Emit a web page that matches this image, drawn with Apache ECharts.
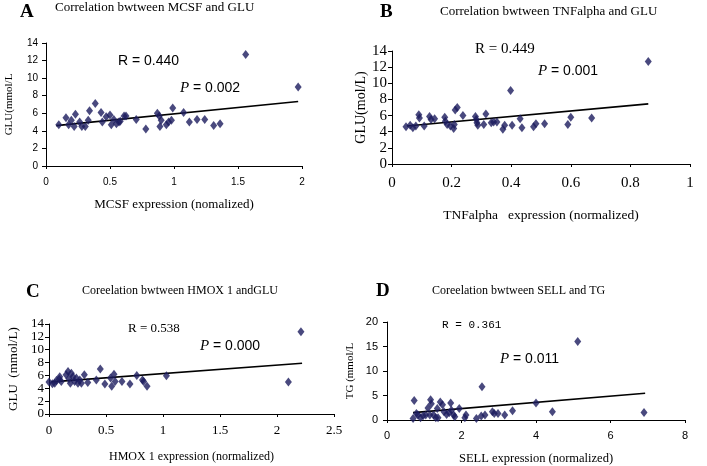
<!DOCTYPE html>
<html>
<head>
<meta charset="utf-8">
<script src="https://cdn.jsdelivr.net/npm/echarts@6/dist/echarts.min.js"></script>
<style>
html,body{margin:0;padding:0;background:#fff;}
#c{width:707px;height:466px;}
</style>
</head>
<body>
<div id="c"></div>
<script>
// ---- Data ----
const pointsA = [[0.10,4.7],[0.156,5.5],[0.177,4.7],[0.198,5.2],[0.22,4.5],[0.23,5.9],[0.263,5.0],[0.28,4.5],[0.307,4.5],[0.33,5.2],[0.34,6.3],[0.385,7.1],[0.43,6.1],[0.44,5.0],[0.47,5.6],[0.50,5.8],[0.51,4.7],[0.53,5.3],[0.55,4.8],[0.57,5.0],[0.58,5.1],[0.61,5.7],[0.625,5.7],[0.705,5.3],[0.78,4.2],[0.87,6.0],[0.885,5.7],[0.89,4.5],[0.90,5.2],[0.94,4.7],[0.958,5.0],[0.98,5.2],[0.99,6.6],[1.075,6.1],[1.12,5.0],[1.18,5.3],[1.24,5.3],[1.31,4.6],[1.36,4.8],[1.56,12.7],[1.97,9.0]];
const fitA = [[0.08,4.6],[1.97,7.35]];

const pointsB = [[0.047,4.6],[0.061,4.8],[0.07,4.5],[0.08,4.7],[0.09,6.1],[0.092,5.7],[0.108,4.7],[0.126,5.9],[0.131,5.5],[0.143,5.6],[0.177,5.8],[0.179,5.3],[0.185,4.9],[0.196,4.7],[0.207,4.4],[0.209,4.9],[0.212,6.7],[0.219,7.0],[0.238,6.0],[0.28,5.9],[0.283,5.5],[0.285,5.1],[0.288,4.8],[0.308,4.9],[0.315,6.2],[0.333,5.1],[0.341,5.2],[0.352,5.2],[0.372,4.3],[0.378,4.8],[0.403,4.8],[0.398,9.1],[0.43,5.6],[0.436,4.5],[0.475,4.6],[0.483,5.0],[0.512,5.0],[0.59,4.9],[0.60,5.8],[0.67,5.7],[0.86,12.7]];
const fitB = [[0.05,4.7],[0.86,7.45]];

const pointsC = [[0,4.96],[0.03,4.7],[0.05,4.8],[0.065,5.2],[0.09,5.4],[0.094,5.8],[0.108,5.06],[0.15,6.1],[0.167,6.6],[0.175,5.5],[0.187,4.8],[0.196,6.35],[0.21,5.8],[0.225,5.06],[0.24,5.6],[0.254,4.8],[0.27,5.3],[0.284,4.8],[0.31,6.1],[0.34,4.9],[0.415,5.3],[0.45,7.0],[0.49,4.65],[0.54,5.6],[0.55,4.3],[0.57,6.2],[0.58,5.06],[0.64,5.06],[0.71,4.65],[0.77,6.0],[0.82,5.3],[0.83,5.06],[0.86,4.3],[1.03,5.94],[2.1,4.96],[2.21,12.8]];
const fitC = [[0.02,5.0],[2.22,7.9]];

const pointsD = [[0.7,0.33],[0.73,4.0],[0.79,1.33],[0.83,1.0],[0.9,0.47],[0.97,0.87],[1.04,1.0],[1.1,2.47],[1.15,1.0],[1.17,4.13],[1.19,3.33],[1.25,1.0],[1.31,0.47],[1.35,2.33],[1.37,0.47],[1.43,3.67],[1.49,3.13],[1.53,1.67],[1.6,1.13],[1.67,1.47],[1.71,3.47],[1.73,2.0],[1.79,1.0],[1.82,0.67],[1.94,2.33],[2.09,0.47],[2.12,1.0],[2.4,0.33],[2.53,0.8],[2.55,6.8],[2.63,1.0],[2.83,1.67],[2.88,1.33],[2.98,1.33],[3.16,1.0],[3.37,1.87],[4.0,3.47],[4.44,1.67],[5.12,16.0],[6.9,1.53]];
const fitD = [[0.7,1.5],[6.93,5.47]];

const titles = ["Correlation bwtween MCSF and GLU","Correlation bwtween TNFalpha and GLU","Coreelation bwtween HMOX 1 andGLU","Coreelation bwtween SELL and TG"];
const letters = ["A","B","C","D"];
const xNames = ["MCSF expression (nomalized)","TNFalpha   expression (normalized)","HMOX 1 expression (normalized)","SELL expression (normalized)"];
const yNames = ["GLU(mmol/L","GLU(mol/L)","GLU  (mmol/L)","TG (mmol/L"];
const rTexts = ["R = 0.440","R = 0.449","R = 0.538","R = 0.361"];
const pTexts = [" = 0.002"," = 0.001"," = 0.000"," = 0.011"];

// ---- Layout / style ----
const SERIF = '"Liberation Serif","Times New Roman",serif';
const SANS = '"Liberation Sans",Arial,sans-serif';
const MONO = '"Liberation Mono","DejaVu Sans Mono",monospace';
const grids = [
  {left:46, top:43, width:256, height:123},
  {left:392, top:51, width:298, height:113},
  {left:49, top:324, width:285, height:90},
  {left:387, top:322, width:298, height:100}
];
const xCfg = [
  {max:2, interval:0.5, font:SANS, size:10, margin:11, nameGap:32, nameSize:13, nameFont:SERIF},
  {max:1, interval:0.2, font:SERIF, size:15, margin:12, nameGap:44, nameSize:13.5, nameFont:SERIF},
  {max:2.5, interval:0.5, font:SERIF, size:13, margin:10, nameGap:37, nameSize:12, nameFont:SERIF},
  {max:8, interval:2, font:SANS, size:11, margin:10, nameGap:32, nameSize:12.5, nameFont:SERIF}
];
const yCfg = [
  {max:14, interval:2, font:SANS, size:10, margin:8, nameGap:31, nameSize:11, nameFont:SERIF},
  {max:14, interval:2, font:SERIF, size:15, margin:5, nameGap:24, nameSize:14, nameFont:SERIF},
  {max:14, interval:2, font:SERIF, size:13, margin:5, nameGap:29, nameSize:13, nameFont:SERIF},
  {max:20, interval:5, font:SANS, size:11, margin:9, nameGap:31, nameSize:11, nameFont:SERIF}
];
const letterPos = [[20,3],[380,3],[26,283],[376,282]];
const titlePos = [[55,1],[440,5],[82,285],[432,285]];
const titleSize = [13,13,12,12];
const rPos = [[118,54],[475,42],[128,322],[442,320]];
const rStyle = [
  {font:SANS,size:14},{font:SERIF,size:15},{font:SERIF,size:13},{font:MONO,size:11}
];
const pPos = [[180,81],[538,64],[200,339],[500,352]];

const allPoints = [pointsA,pointsB,pointsC,pointsD];
const allFits = [fitA,fitB,fitC,fitD];

const xAxis = [], yAxis = [], series = [], graphic = [];
for (let i=0;i<4;i++){
  const axLine = {show:true, lineStyle:{color:'#000', width:1}};
  xAxis.push({
    gridIndex:i, type:'value', min:0, max:xCfg[i].max, interval:xCfg[i].interval,
    axisLine:axLine, axisTick:{show:true, length:3, lineStyle:{color:'#000'}},
    splitLine:{show:false},
    axisLabel:{color:'#000', fontFamily:xCfg[i].font, fontSize:xCfg[i].size, margin:xCfg[i].margin},
    name:xNames[i], nameLocation:'middle', nameGap:xCfg[i].nameGap,
    nameTextStyle:{color:'#000', fontFamily:xCfg[i].nameFont, fontSize:xCfg[i].nameSize}
  });
  yAxis.push({
    gridIndex:i, type:'value', min:0, max:yCfg[i].max, interval:yCfg[i].interval,
    axisLine:axLine, axisTick:{show:true, length:4, lineStyle:{color:'#000'}},
    splitLine:{show:false},
    axisLabel:{color:'#000', fontFamily:yCfg[i].font, fontSize:yCfg[i].size, margin:yCfg[i].margin},
    name:yNames[i], nameLocation:'middle', nameGap:yCfg[i].nameGap, nameRotate:90,
    nameTextStyle:{color:'#000', fontFamily:yCfg[i].nameFont, fontSize:yCfg[i].nameSize}
  });
  series.push({
    type:'scatter', xAxisIndex:i, yAxisIndex:i, data:allPoints[i],
    symbol:'diamond', symbolSize:[7,9],
    itemStyle:{color:'#1b1b5e'}, silent:true, z:3
  });
  series.push({
    type:'line', xAxisIndex:i, yAxisIndex:i, data:allFits[i],
    symbol:'none', lineStyle:{color:'#000', width:1.6}, silent:true, z:2
  });
  graphic.push({type:'text', left:letterPos[i][0], top:letterPos[i][1],
    style:{text:letters[i], font:'bold 19px ' + SERIF, fill:'#000'}});
  graphic.push({type:'text', left:titlePos[i][0], top:titlePos[i][1],
    style:{text:titles[i], font:titleSize[i] + 'px ' + SERIF, fill:'#000'}});
  graphic.push({type:'text', left:rPos[i][0], top:rPos[i][1],
    style:{text:rTexts[i], font:rStyle[i].size + 'px ' + rStyle[i].font, fill:'#000'}});
  graphic.push({type:'text', left:pPos[i][0], top:pPos[i][1],
    style:{text:'{p|P}{v|' + pTexts[i] + '}', fill:'#000',
      rich:{p:{fontFamily:SERIF, fontStyle:'italic', fontSize:15, fill:'#000'},
            v:{fontFamily:SANS, fontSize:14, fill:'#000'}}}});
}

const chart = echarts.init(document.getElementById('c'), null, {renderer:'canvas'});
chart.setOption({
  backgroundColor:'#fff',
  animation:false,
  grid:grids.map(g=>Object.assign({containLabel:false}, g)),
  xAxis:xAxis, yAxis:yAxis, series:series, graphic:graphic
});
</script>
</body>
</html>
